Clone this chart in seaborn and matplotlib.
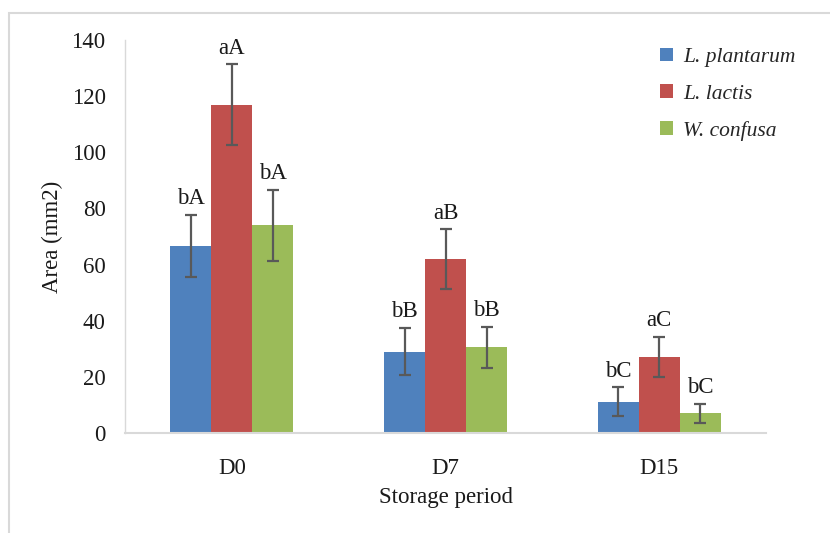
import matplotlib
matplotlib.use("Agg")
import matplotlib.pyplot as plt
import seaborn as sns
import pandas as pd
from matplotlib.patches import Rectangle

periods = ["D0", "D7", "D15"]
strains = ["L. plantarum", "L. lactis", "W. confusa"]
area_plantarum = [66.7, 29.0, 11.2]
area_lactis = [117.0, 61.9, 27.2]
area_confusa = [74.0, 30.5, 7.0]
err_plantarum = [11.0, 8.5, 5.1]
err_lactis = [14.3, 10.6, 7.1]
err_confusa = [12.7, 7.3, 3.5]
lab_plantarum = ["bA", "bB", "bC"]
lab_lactis = ["aA", "aB", "aC"]
lab_confusa = ["bA", "bB", "bC"]
colors = ["#4F81BD", "#C0504D", "#9BBB59"]

values = [area_plantarum, area_lactis, area_confusa]
errors = [err_plantarum, err_lactis, err_confusa]
letters = [lab_plantarum, lab_lactis, lab_confusa]

rows = []
for s, vals, errs, labs in zip(strains, values, errors, letters):
    for p, v, e, l in zip(periods, vals, errs, labs):
        rows.append({"period": p, "strain": s, "area": v, "err": e, "label": l})
df = pd.DataFrame(rows)

sns.set_style("white")
plt.rcParams["font.family"] = ["Liberation Serif", "DejaVu Serif"]

FS = 16.5
TXT = "#1a1a1a"

fig = plt.figure(figsize=(8.3, 5.33), dpi=100)
ax = fig.add_axes([0.1506, 0.1876, 0.7724, 0.7374])

sns.barplot(data=df, x="period", y="area", hue="strain", order=periods,
            hue_order=strains, palette=colors, errorbar=None, width=0.575,
            saturation=1, linewidth=0, ax=ax)

# error bars and significance letters on each bar
for i, s in enumerate(strains):
    sub = df[df["strain"] == s].set_index("period").loc[periods]
    cont = ax.containers[i]
    for bar, (_, r) in zip(cont, sub.iterrows()):
        xc = bar.get_x() + bar.get_width() / 2
        ax.errorbar(xc, r["area"], yerr=r["err"], fmt="none", ecolor="#595959",
                    elinewidth=1.6, capsize=4.5, capthick=1.6, zorder=5)
        ax.annotate(r["label"], (xc, r["area"] + r["err"]), xytext=(0, 4),
                    textcoords="offset points", ha="center", va="bottom",
                    fontsize=FS, color=TXT)

ax.set_ylim(0, 140)
ax.set_yticks(range(0, 141, 20))
ax.set_xlim(-0.5, 2.5)
ax.tick_params(axis="both", length=0, labelsize=FS, colors=TXT)
ax.tick_params(axis="x", pad=18)
ax.tick_params(axis="y", pad=14)
ax.set_xlabel("Storage period", fontsize=FS, color=TXT, labelpad=6)
ax.set_ylabel("Area (mm2)", fontsize=FS, color=TXT, labelpad=6)

for side in ["top", "right"]:
    ax.spines[side].set_visible(False)
ax.spines["left"].set_color("#d9d9d9")
ax.spines["bottom"].set_color("#d9d9d9")
ax.spines["left"].set_linewidth(1.0)
ax.spines["bottom"].set_linewidth(1.5)

leg = ax.legend(loc="upper left", bbox_to_anchor=(0.805, 1.03), frameon=False,
                prop={"family": "Liberation Serif", "style": "italic", "size": 15.5},
                handlelength=0.6, handleheight=0.6, handletextpad=0.45,
                labelspacing=0.8)

# outer chart-area frame
fig.patches.append(Rectangle((9 / 830, -0.05), 1.2, 1 - 13 / 533 + 0.05,
                             transform=fig.transFigure, fill=False,
                             edgecolor="#d9d9d9", linewidth=1.5))

fig.savefig("out.png", dpi=100)
